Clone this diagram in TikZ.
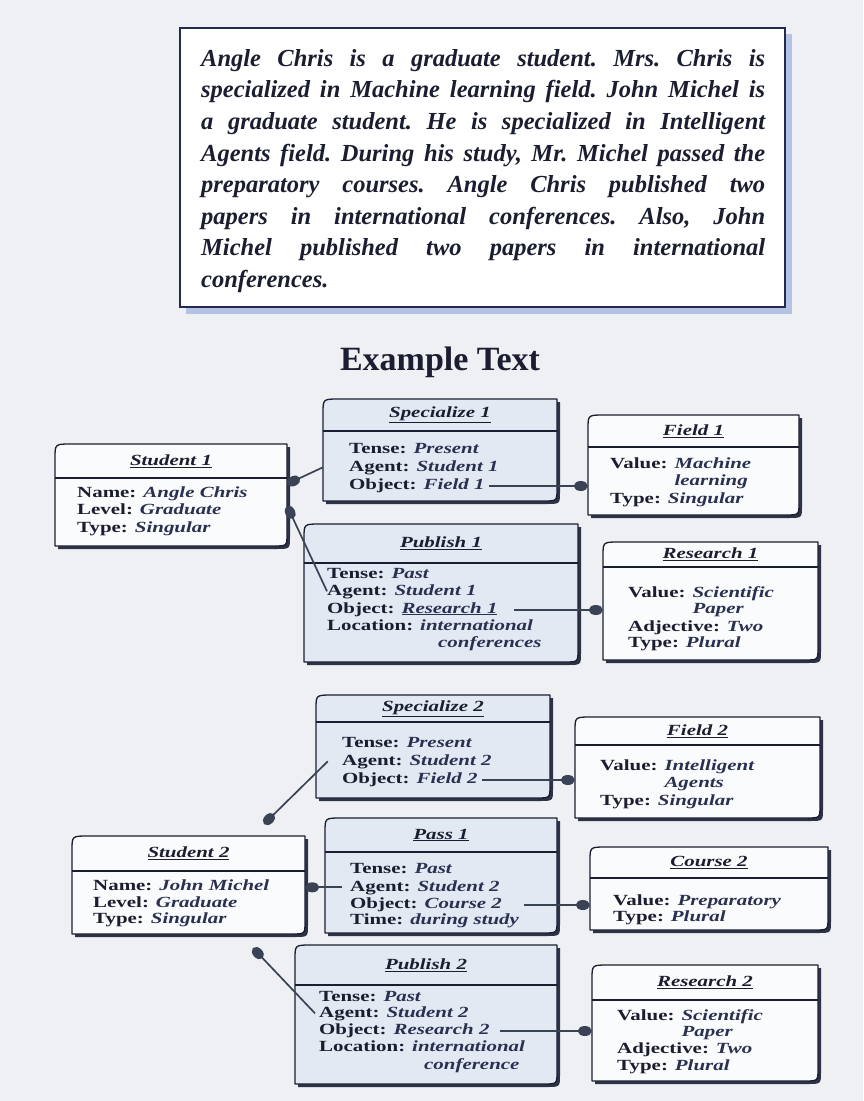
\documentclass[tikz,border=0pt]{standalone}
\usepackage{fontspec}
\setmainfont{Liberation Serif}
\newfontfamily\boxfont{Liberation Serif}[FakeStretch=1.35]
\usetikzlibrary{arrows.meta,calc,fit}

\definecolor{paper}{HTML}{EEF0F3}
\definecolor{ink}{HTML}{1B1E30}
\definecolor{valink}{HTML}{2A3050}
\definecolor{boxblue}{HTML}{E3E9F3}
\definecolor{boxwhite}{HTML}{FAFBFC}
\definecolor{boxshade}{HTML}{2E3246}
\definecolor{wire}{HTML}{3A4356}
\definecolor{haze}{HTML}{B4C3E4}
\definecolor{frameink}{HTML}{232A50}

\tikzset{
  boxborder/.style={draw=ink, line width=1.3pt, line join=round},
  titletext/.style={font=\boxfont\bfseries\itshape\fontsize{15.5}{17}\selectfont, text=ink, inner sep=0},
  rowtext/.style={font=\boxfont\bfseries\fontsize{15.5}{17}\selectfont, text=ink, inner sep=0, anchor=base west},
  wireline/.style={draw=wire, line width=1.7pt},
  dotend/.style={-{Circle[length=14pt,width=10pt]}},
  dotstart/.style={{Circle[length=14pt,width=10pt]}-},
}

\newcommand\val[1]{{\itshape\color{valink}#1}}

% frame with rounded top-left and bottom-right corners, a header bar and a drop shadow
% #1 name, #2 left, #3 top, #4 right, #5 bottom, #6 header rule, #7 fill, #8 title
\newcommand\umlbox[8]{%
  \fill[boxshade] (#2+3,#5+3) -- (#2+3,#3+17) .. controls (#2+3,#3+3) .. (#2+19,#3+3)
     -- (#4+3,#3+3) -- (#4+3,#5-9) .. controls (#4+3,#5+3) .. (#4-11,#5+3) -- cycle;
  \draw[boxborder, fill=#7] (#2,#5) -- (#2,#3+14) .. controls (#2,#3) .. (#2+16,#3)
     -- (#4,#3) -- (#4,#5-12) .. controls (#4,#5) .. (#4-14,#5) -- cycle;
  \draw[boxborder] (#2,#6) -- (#4,#6);
  \coordinate (#1-nw) at (#2,#3);
  \coordinate (#1-se) at (#4,#5);
  \node[fit=(#1-nw)(#1-se), inner sep=0] (#1) {};
  \node[titletext] (#1-title) at ({(#2+#4)/2},{(#3+#6)/2}) {\underline{#8}};
}

\begin{document}
\begin{tikzpicture}[x=1pt, y=-1pt]
\useasboundingbox (0,0) rectangle (863,1101);
\fill[paper] (0,0) rectangle (863,1101);

% ---- text panel ----
\fill[haze] (186,34) rectangle (792,314);
\draw[fill=white, draw=frameink, line width=1.5pt] (180,28) rectangle (785,307);
\node[anchor=north west, text width=564pt, align=justify, inner sep=0, text=ink,
      font=\bfseries\itshape\fontsize{24.5}{31.6}\selectfont] (para) at (201,49)
 {\frenchspacing\tolerance=10000\hyphenpenalty=10000
  Angle Chris is a graduate student. Mrs. Chris is\linebreak
  specialized in Machine learning field. John Michel is\linebreak
  a graduate student. He is specialized in Intelligent\linebreak
  Agents field. During his study, Mr. Michel passed the\linebreak
  preparatory courses. Angle Chris published two\linebreak
  papers in international conferences. Also, John\linebreak
  Michel published two papers in international\linebreak
  conferences.};

\node[font=\bfseries\fontsize{34}{40}\selectfont, text=ink] (caption) at (440,362) {Example Text};

% ---- first student ----
\umlbox{st1}{55}{444}{287}{546}{478}{boxwhite}{Student 1}
\node[rowtext] (st1name) at (77,497) {Name: \val{Angle Chris}};
\node[rowtext] (st1level) at (77,514) {Level: \val{Graduate}};
\node[rowtext] (st1type) at (77,532) {Type: \val{Singular}};

\umlbox{sp1}{323}{399}{557}{501}{431}{boxblue}{Specialize 1}
\node[rowtext] (sp1tense) at (349,453) {Tense: \val{Present}};
\node[rowtext] (sp1agent) at (349,471) {Agent: \val{Student 1}};
\node[rowtext] (sp1obj) at (349,489) {Object: \val{Field 1}};

\umlbox{fd1}{588}{415}{799}{515}{447}{boxwhite}{Field 1}
\node[rowtext] (fd1value) at (610,468) {Value: \val{Machine}};
\node[rowtext] (fd1cont) at (610,485) {\phantom{Value: }\val{learning}};
\node[rowtext] (fd1type) at (610,503) {Type: \val{Singular}};

\umlbox{pb1}{304}{524}{578}{662}{563}{boxblue}{Publish 1}
\node[rowtext] (pb1tense) at (327,578) {Tense: \val{Past}};
\node[rowtext] (pb1agent) at (327,595) {Agent: \val{Student 1}};
\node[rowtext] (pb1obj) at (327,613) {Object: \val{\underline{Research 1}}};
\node[rowtext] (pb1loc) at (327,630) {Location: \val{international}};
\node[rowtext] (pb1cont) at (327,647) {\phantom{Location: }\hspace{18pt}\val{conferences}};

\umlbox{rs1}{603}{542}{818}{660}{567}{boxwhite}{Research 1}
\node[rowtext] (rs1value) at (628,597) {Value: \val{Scientific}};
\node[rowtext] (rs1cont) at (628,613) {\phantom{Value: }\val{Paper}};
\node[rowtext] (rs1adj) at (628,631) {Adjective: \val{Two}};
\node[rowtext] (rs1type) at (628,647) {Type: \val{Plural}};

% ---- second student ----
\umlbox{sp2}{316}{695}{550}{798}{722}{boxblue}{Specialize 2}
\node[rowtext] (sp2tense) at (342,747) {Tense: \val{Present}};
\node[rowtext] (sp2agent) at (342,765) {Agent: \val{Student 2}};
\node[rowtext] (sp2obj) at (342,783) {Object: \val{Field 2}};

\umlbox{fd2}{575}{717}{820}{818}{745}{boxwhite}{Field 2}
\node[rowtext] (fd2value) at (600,770) {Value: \val{Intelligent}};
\node[rowtext] (fd2cont) at (600,787) {\phantom{Value: }\val{Agents}};
\node[rowtext] (fd2type) at (600,805) {Type: \val{Singular}};

\umlbox{st2}{72}{836}{305}{934}{871}{boxwhite}{Student 2}
\node[rowtext] (st2name) at (93,890) {Name: \val{John Michel}};
\node[rowtext] (st2level) at (93,907) {Level: \val{Graduate}};
\node[rowtext] (st2type) at (93,923) {Type: \val{Singular}};

\umlbox{ps1}{325}{818}{557}{933}{852}{boxblue}{Pass 1}
\node[rowtext] (ps1tense) at (350,873) {Tense: \val{Past}};
\node[rowtext] (ps1agent) at (350,891) {Agent: \val{Student 2}};
\node[rowtext] (ps1obj) at (350,908) {Object: \val{Course 2}};
\node[rowtext] (ps1time) at (350,924) {Time: \val{during study}};

\umlbox{cs2}{590}{847}{828}{930}{878}{boxwhite}{Course 2}
\node[rowtext] (cs2value) at (613,905) {Value: \val{Preparatory}};
\node[rowtext] (cs2type) at (613,921) {Type: \val{Plural}};

\umlbox{pb2}{295}{945}{557}{1084}{985}{boxblue}{Publish 2}
\node[rowtext] (pb2tense) at (319,1001) {Tense: \val{Past}};
\node[rowtext] (pb2agent) at (319,1017) {Agent: \val{Student 2}};
\node[rowtext] (pb2obj) at (319,1034) {Object: \val{Research 2}};
\node[rowtext] (pb2loc) at (319,1051) {Location: \val{international}};
\node[rowtext] (pb2cont) at (319,1069) {\phantom{Location: }\hspace{12pt}\val{conference}};

\umlbox{rs2}{592}{965}{818}{1081}{1000}{boxwhite}{Research 2}
\node[rowtext] (rs2value) at (617,1020) {Value: \val{Scientific}};
\node[rowtext] (rs2cont) at (617,1036) {\phantom{Value: }\val{Paper}};
\node[rowtext] (rs2adj) at (617,1053) {Adjective: \val{Two}};
\node[rowtext] (rs2type) at (617,1070) {Type: \val{Plural}};

% ---- connectors ----
\draw[wireline, dotstart] ([yshift=11pt]st1.east) -- (sp1.west |- sp1agent);
\draw[wireline, dotstart] ([yshift=-11pt]st1.east) -- (pb1agent.west);

\coordinate (o1) at ($(sp1obj.base east)+(4,-3)$);
\draw[wireline, dotend] (o1) -- (fd1.west |- o1);
\coordinate (o2) at ($(pb1obj.base east)+(16,-3)$);
\draw[wireline, dotend] (o2) -- (rs1.west |- o2);

\coordinate (sp2end) at (264,824);
\draw[wireline, dotend] ($(sp2.west |- sp2agent)+(12,0)$) -- (sp2end);
\coordinate (o3) at ($(sp2obj.base east)+(4,-3)$);
\draw[wireline, dotend] (o3) -- (fd2.west |- o3);

\draw[wireline, dotstart] (st2.east |- ps1agent) -- ([xshift=-8pt]ps1agent.west);
\coordinate (o4) at ($(ps1obj.base east)+(22,-3)$);
\draw[wireline, dotend] (o4) -- (cs2.west |- o4);

\coordinate (pb2end) at (253,948);
\draw[wireline, dotend] ([xshift=-4pt]pb2agent.west) -- (pb2end);
\coordinate (o5) at ($(pb2obj.base east)+(10,-3)$);
\draw[wireline, dotend] (o5) -- (rs2.west |- o5);
\end{tikzpicture}
\end{document}
